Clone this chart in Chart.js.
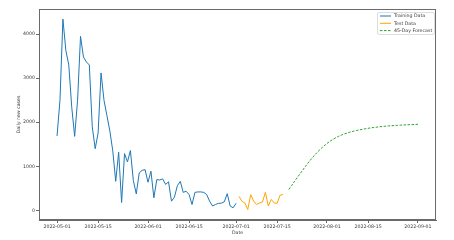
<!DOCTYPE html>
<html>
<head>
<meta charset="utf-8">
<script src="https://cdn.jsdelivr.net/npm/chart.js@4.4.0/dist/chart.umd.min.js"></script>
<style>
  html, body { margin: 0; padding: 0; background: #fff; }
  #chart { display: block; }
</style>
</head>
<body>
<canvas id="chart" width="454" height="240"></canvas>
<script>
// day 0 = 2022-05-01
const trainStart = 0;
const trainValues = [
    1690, 2500, 4340, 3630, 3300, 2350, 1680, 2500, 3950, 3480,
    3370, 3300, 1900, 1400, 1760, 3120, 2500, 2150, 1800, 1350,
    660, 1320, 180, 1290, 1100, 1360, 680, 375, 850, 910,
    925, 640, 890, 285, 700, 690, 715, 590, 650, 210,
    300, 560, 660, 410, 435, 360, 135, 410, 420, 420,
    410, 360, 210, 100, 135, 160, 165, 195, 380, 100,
    60, 160
];
const testStart = 62;
const testValues = [
    320, 210, 170, 20, 360, 210, 135, 170, 190, 410,
    100, 250, 170, 160, 345, 360
];
const forecastStart = 79;
const forecastValues = [
    475, 570, 665, 758, 850, 940, 1030, 1115, 1195, 1270,
    1340, 1405, 1465, 1520, 1570, 1612, 1650, 1683, 1712, 1738,
    1760, 1780, 1797, 1812, 1826, 1840, 1852, 1863, 1873, 1882,
    1890, 1898, 1905, 1911, 1917, 1922, 1927, 1931, 1935, 1939,
    1942, 1945, 1948, 1951, 1954
];
const seriesNames = ["Training Data", "Test Data", "45-Day Forecast"];
const xTickDays = [0, 14, 31, 45, 61, 75, 92, 106, 123];
const xTickLabels = ["2022-05-01", "2022-05-15", "2022-06-01", "2022-06-15", "2022-07-01",
                     "2022-07-15", "2022-08-01", "2022-08-15", "2022-09-01"];
const yTicks = [0, 1000, 2000, 3000, 4000];

const toPoints = (start, arr) => arr.map((v, i) => ({ x: start + i, y: v }));

const FONT = "'DejaVu Sans', sans-serif";
const TEXT = '#3a3a3a';
const AXIS = '#6a6a6a';

// top + right spines
const frame = {
    id: 'frame',
    afterDraw(chart) {
        const { ctx, chartArea: a } = chart;
        ctx.save();
        ctx.strokeStyle = AXIS;
        ctx.lineWidth = 1;
        ctx.strokeRect(a.left + 0.5, a.top + 0.5, a.right - a.left - 1, a.bottom - a.top - 1);
        ctx.restore();
    }
};

// matplotlib-ish legend box, upper right
const mplLegend = {
    id: 'mplLegend',
    afterDraw(chart) {
        const { ctx, chartArea: a } = chart;
        const x0 = a.right - 59, y0 = a.top + 3, w = 57, h = 22;
        ctx.save();
        ctx.fillStyle = 'rgba(255,255,255,0.85)';
        ctx.strokeStyle = '#d6d6d6';
        ctx.lineWidth = 0.8;
        ctx.beginPath();
        ctx.roundRect(x0 + 0.5, y0 + 0.5, w, h, 1.5);
        ctx.fill();
        ctx.stroke();
        ctx.font = "4.7px " + FONT;
        ctx.textBaseline = 'middle';
        chart.data.datasets.forEach((ds, i) => {
            const y = y0 + 4 + i * 7.3;
            ctx.strokeStyle = ds.borderColor;
            ctx.lineWidth = 1;
            ctx.setLineDash(ds.borderDash || []);
            ctx.beginPath();
            ctx.moveTo(x0 + 3, y);
            ctx.lineTo(x0 + 14, y);
            ctx.stroke();
            ctx.setLineDash([]);
            ctx.fillStyle = TEXT;
            ctx.fillText(ds.label, x0 + 17, y);
        });
        ctx.restore();
    }
};

new Chart(document.getElementById('chart').getContext('2d'), {
    type: 'line',
    data: {
        datasets: [{
            label: seriesNames[0],
            data: toPoints(trainStart, trainValues),
            borderColor: '#1f77b4',
            borderWidth: 1
        }, {
            label: seriesNames[1],
            data: toPoints(testStart, testValues),
            borderColor: '#ffa500',
            borderWidth: 1
        }, {
            label: seriesNames[2],
            data: toPoints(forecastStart, forecastValues),
            borderColor: '#2ca02c',
            borderWidth: 1,
            borderDash: [2.5, 1.5]
        }]
    },
    options: {
        responsive: false,
        animation: false,
        layout: { padding: { top: 9, right: 18, left: 0, bottom: 0 } },
        elements: {
            point: { radius: 0 },
            line: { tension: 0, fill: false }
        },
        plugins: {
            legend: { display: false },
            tooltip: { enabled: false }
        },
        scales: {
            x: {
                type: 'linear',
                min: -6.15,
                max: 129.15,
                afterBuildTicks: (scale) => {
                    scale.ticks = xTickDays.map(v => ({ value: v }));
                },
                afterFit: (scale) => { scale.height = 20; },
                ticks: {
                    callback: (v) => xTickLabels[xTickDays.indexOf(v)],
                    font: { family: FONT, size: 4.7 },
                    color: TEXT,
                    padding: 1,
                    maxRotation: 0,
                    autoSkip: false
                },
                grid: { drawOnChartArea: false, drawTicks: true, tickLength: 3, color: AXIS },
                border: { display: true, color: AXIS, width: 1 },
                title: {
                    display: true,
                    text: 'Date',
                    font: { family: FONT, size: 4.7 },
                    color: TEXT,
                    padding: { top: 0, bottom: 4.5 }
                }
            },
            y: {
                type: 'linear',
                min: -217,
                max: 4570,
                afterBuildTicks: (scale) => {
                    scale.ticks = yTicks.map(v => ({ value: v }));
                },
                afterFit: (scale) => { scale.width = 39; },
                ticks: {
                    callback: (v) => String(v),
                    font: { family: FONT, size: 4.7 },
                    color: TEXT,
                    padding: 1
                },
                grid: { drawOnChartArea: false, drawTicks: true, tickLength: 3, color: AXIS },
                border: { display: true, color: AXIS, width: 1 },
                title: {
                    display: true,
                    text: 'Daily new cases',
                    font: { family: FONT, size: 4.7 },
                    color: TEXT,
                    padding: { top: 16, bottom: 0 }
                }
            }
        }
    },
    plugins: [frame, mplLegend]
});
</script>
</body>
</html>
